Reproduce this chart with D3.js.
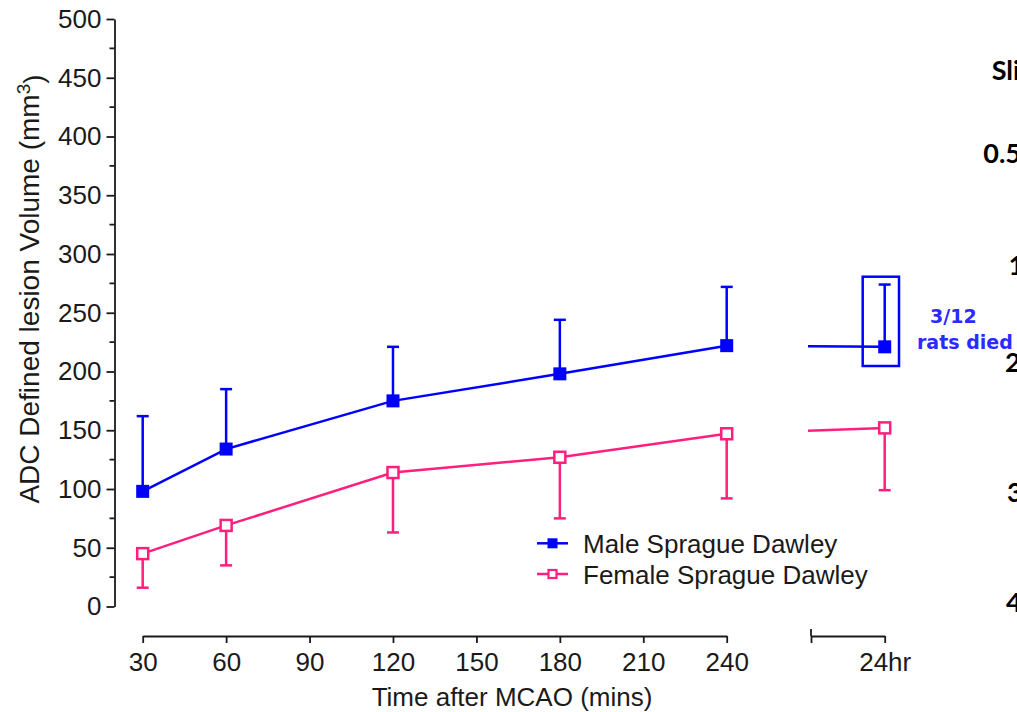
<!DOCTYPE html>
<html>
<head>
<meta charset="utf-8">
<script src="https://cdn.jsdelivr.net/npm/d3@7"></script>
<style>
  html, body { margin: 0; padding: 0; background: #fff; }
  svg { display: block; }
  text { font-family: "Liberation Sans", Arial, sans-serif; }
</style>
</head>
<body>
<svg id="chart" width="1017" height="712"></svg>
<script>
// Time points (minutes) on the continuous part of the axis, then the 24 h point
const timeMins = [30, 60, 120, 180, 240];
const lateLabel = "24hr";
const xTickValues = [30, 60, 90, 120, 150, 180, 210, 240];
const yTickValues = [0, 50, 100, 150, 200, 250, 300, 350, 400, 450, 500];

// ADC lesion volume (mm^3): 30, 60, 120, 180, 240 min, 24 hr
const maleMean = [98, 134, 175, 198, 222, 221];
const maleErr = [64, 51, 46, 46, 50, 53];
const femaleMean = [45, 69, 114, 127, 147, 152];
const femaleErr = [29, 34, 51, 52, 55, 53];

const seriesNames = ["Male Sprague Dawley", "Female Sprague Dawley"];
const annotationLines = ["3/12", "rats died"];
const sideLabels = ["Sli", "0.5", "1", "2", "3", "4"];

const BLUE = "#0000ff";
const PINK = "#ff1f7f";
const AXIS = "#1a1a1a";
const NOTE = "#2b2bff";

const svg = d3.select("#chart");

const y = d3.scaleLinear().domain([0, 500]).range([606.5, 19]);
const x = d3.scaleLinear().domain([30, 240]).range([142.7, 726.7]);
// separate short segment of the broken axis that holds the 24 hr point
const xLate = d3.scalePoint().domain(["", lateLabel]).range([811, 884.7]);

const xAxisY = 636;
const yAxisX = 114.5;

const posX = i => i < timeMins.length ? x(timeMins[i]) : xLate(lateLabel);

// ---- Y axis (major + minor ticks)
const yAxis = d3.axisLeft(y).tickValues(yTickValues).tickSize(8).tickSizeOuter(0).tickPadding(5);
const gy = svg.append("g").attr("transform", `translate(${yAxisX},0)`).call(yAxis);
gy.selectAll("text").style("font-size", "26px").style("fill", AXIS);
gy.selectAll("line, path").attr("stroke", AXIS).attr("stroke-width", 1.8);
const minor = d3.range(25, 500, 50);
svg.append("g").selectAll("line").data(minor).join("line")
  .attr("x1", yAxisX).attr("x2", yAxisX - 5)
  .attr("y1", d => y(d)).attr("y2", d => y(d))
  .attr("stroke", AXIS).attr("stroke-width", 1.8);

// ---- X axis, main segment
const xAxis = d3.axisBottom(x).tickValues(xTickValues).tickSize(7).tickSizeOuter(0).tickPadding(10);
const gx = svg.append("g").attr("transform", `translate(0,${xAxisY})`).call(xAxis);
gx.selectAll("text").style("font-size", "26px").style("fill", AXIS);
gx.selectAll("line, path").attr("stroke", AXIS).attr("stroke-width", 1.8);

// ---- X axis, 24 hr segment
const xAxisLate = d3.axisBottom(xLate).tickSize(7).tickSizeOuter(0).tickPadding(10);
const gx2 = svg.append("g").attr("transform", `translate(0,${xAxisY})`).call(xAxisLate);
gx2.selectAll("text").style("font-size", "26px").style("fill", AXIS);
gx2.selectAll("line, path").attr("stroke", AXIS).attr("stroke-width", 1.8);
// break mark at the start of the segment reaches above the axis too
gx2.append("line").attr("x1", xLate("")).attr("x2", xLate(""))
  .attr("y1", -7).attr("y2", 0).attr("stroke", AXIS).attr("stroke-width", 1.8);

// ---- Axis titles
svg.append("text")
  .attr("x", 512).attr("y", 706)
  .attr("text-anchor", "middle")
  .style("font-size", "26px").style("fill", AXIS)
  .text("Time after MCAO (mins)");

const yTitle = svg.append("text")
  .attr("transform", "translate(39,289) rotate(-90)")
  .attr("text-anchor", "middle")
  .style("font-size", "28px").style("fill", AXIS);
yTitle.append("tspan").text("ADC Defined lesion Volume (mm");
yTitle.append("tspan").attr("dy", "-0.45em").style("font-size", "19px").text("3");
yTitle.append("tspan").attr("dy", "0.45em").text(")");

// ---- Series
const clipId = "late-clip";
svg.append("defs").append("clipPath").attr("id", clipId)
  .append("rect").attr("x", 808).attr("y", 0).attr("width", 209).attr("height", 712);

const line = d3.line().x(d => d[0]).y(d => d[1]);

function drawSeries(mean, err, color, filled, up) {
  const g = svg.append("g");
  const pts = mean.map((v, i) => [posX(i), y(v)]);
  const n = timeMins.length;
  // continuous time course
  g.append("path").attr("d", line(pts.slice(0, n)))
    .attr("fill", "none").attr("stroke", color).attr("stroke-width", 2.5);
  // link to the 24 hr point, only shown past the axis break
  g.append("path").attr("d", line(pts.slice(n - 1)))
    .attr("clip-path", `url(#${clipId})`)
    .attr("fill", "none").attr("stroke", color).attr("stroke-width", 2.5);
  // one-sided error bars
  const ends = mean.map((v, i) => up ? v + err[i] : v - err[i]);
  g.selectAll("line.eb").data(mean).join("line").attr("class", "eb")
    .attr("x1", (d, i) => posX(i)).attr("x2", (d, i) => posX(i))
    .attr("y1", d => y(d)).attr("y2", (d, i) => y(ends[i]))
    .attr("stroke", color).attr("stroke-width", 2.5);
  g.selectAll("line.cap").data(ends).join("line").attr("class", "cap")
    .attr("x1", (d, i) => posX(i) - 6).attr("x2", (d, i) => posX(i) + 6)
    .attr("y1", d => y(d)).attr("y2", d => y(d))
    .attr("stroke", color).attr("stroke-width", 2.5);
  // markers
  const s = filled ? 13 : 11;
  g.selectAll("rect").data(mean).join("rect")
    .attr("x", (d, i) => posX(i) - s / 2).attr("y", d => y(d) - s / 2)
    .attr("width", s).attr("height", s)
    .attr("fill", filled ? color : "#fff")
    .attr("stroke", filled ? "none" : color).attr("stroke-width", 2.5);
}

drawSeries(femaleMean, femaleErr, PINK, false, false);
drawSeries(maleMean, maleErr, BLUE, true, true);

// ---- Box around the 24 hr male point and its note
svg.append("rect")
  .attr("x", 862.7).attr("y", 276.7).attr("width", 36.3).attr("height", 89.3)
  .attr("fill", "none").attr("stroke", BLUE).attr("stroke-width", 2.5);

svg.append("text").attr("x", 930).attr("y", 323)
  .style("font-family", "'DejaVu Sans', sans-serif").style("font-weight", "bold")
  .style("font-size", "19px").style("fill", NOTE).text(annotationLines[0]);
svg.append("text").attr("x", 917).attr("y", 348.5)
  .style("font-family", "'DejaVu Sans', sans-serif").style("font-weight", "bold")
  .style("font-size", "19px").style("fill", NOTE).text(annotationLines[1]);

// ---- Legend
const legend = svg.append("g");
const legendRows = [
  { name: seriesNames[0], color: BLUE, filled: true, ly: 543.3 },
  { name: seriesNames[1], color: PINK, filled: false, ly: 574 }
];
legendRows.forEach(r => {
  legend.append("line").attr("x1", 537).attr("x2", 568).attr("y1", r.ly).attr("y2", r.ly)
    .attr("stroke", r.color).attr("stroke-width", 2.5);
  const s = r.filled ? 10 : 8;
  legend.append("rect").attr("x", 552.5 - s / 2).attr("y", r.ly - s / 2)
    .attr("width", s).attr("height", s)
    .attr("fill", r.filled ? r.color : "#fff")
    .attr("stroke", r.filled ? "none" : r.color).attr("stroke-width", 2.2);
  legend.append("text").attr("x", 583).attr("y", r.ly + 9.7)
    .style("font-size", "26px").style("fill", AXIS).text(r.name);
});

// ---- Labels of the neighbouring panel, cut by the edge
const sidePos = [[991.7, 80], [983.3, 163], [1008.5, 275], [1005, 372], [1007, 502], [1006, 612]];
svg.append("g").selectAll("text").data(sideLabels).join("text")
  .attr("x", (d, i) => sidePos[i][0]).attr("y", (d, i) => sidePos[i][1])
  .style("font-family", "Lato, 'Open Sans', sans-serif").style("font-weight", "bold")
  .style("font-size", "27px").style("fill", "#000")
  .text(d => d);
</script>
</body>
</html>
